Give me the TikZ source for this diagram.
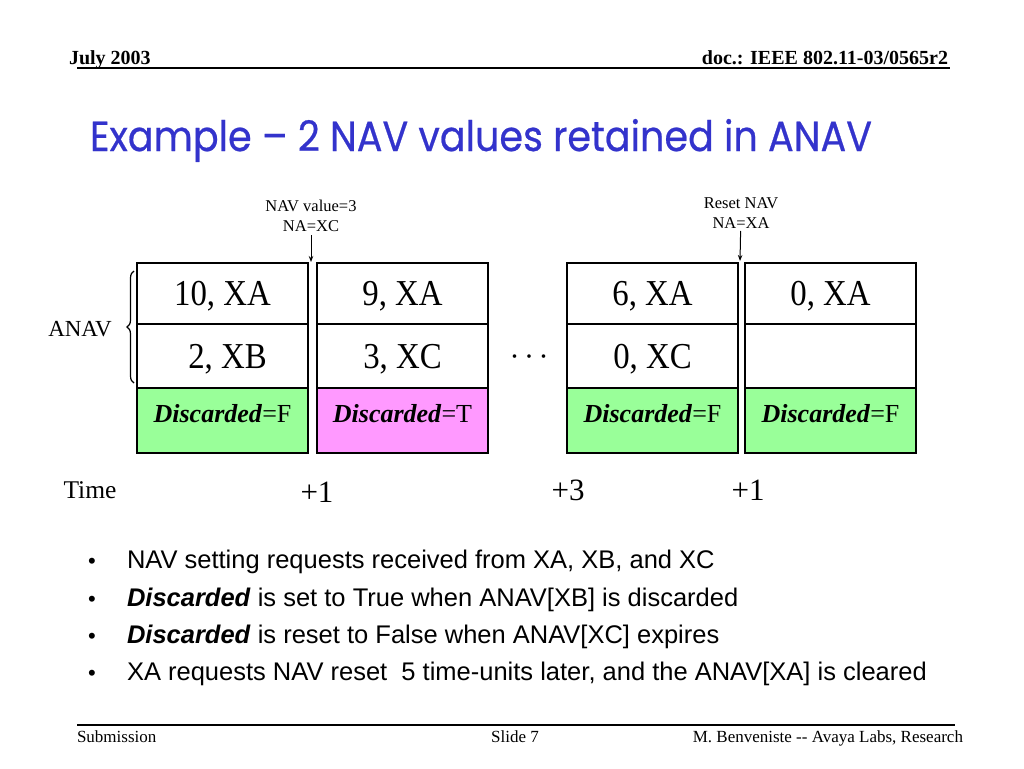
\documentclass[tikz,border=0pt]{standalone}
\usepackage{fontspec}
\setmainfont{Liberation Serif}
\setsansfont{Liberation Sans}
\newfontfamily\titlefont{Poppins}[FakeBold=0.6]
\newfontfamily\cellfont{Liberation Serif}[FakeStretch=0.9]
\usetikzlibrary{positioning,arrows.meta,decorations.pathreplacing}
\definecolor{flagF}{RGB}{153,255,153}
\definecolor{flagT}{RGB}{255,153,255}
\definecolor{titleblue}{RGB}{51,51,204}

\begin{document}
\begin{tikzpicture}[x=1pt,y=-1pt,
    every node/.style={inner sep=0pt,outer sep=0pt},
    cell/.style={draw,line width=1.5pt,minimum width=171pt},
    entry/.style={font=\cellfont\fontsize{36.5}{40}\selectfont,text height=24pt,text depth=0pt},
    flag/.style={font=\fontsize{26}{30}\selectfont,text height=18pt,text depth=15pt},
    note/.style={align=center,anchor=south,font=\fontsize{16.5}{20}\selectfont},
    pointer/.style={-{Stealth[length=6pt,width=4.5pt]},line width=1pt,shorten <=3pt},
    tick/.style={anchor=base,font=\fontsize{31}{36}\selectfont},
    bullet/.style={anchor=base west,font=\sffamily\fontsize{25.5}{30}\selectfont},
    rule/.style={line width=1.5pt}]

    \fill[white] (0,0) rectangle (1024,768);
    \useasboundingbox (0,0) rectangle (1024,768);

    \node[anchor=base west,font=\bfseries\fontsize{20}{24}\selectfont] (date) at (69,64) {July 2003};
    \node[anchor=base east,font=\bfseries\fontsize{20}{24}\selectfont] (doc) at (948,64) {doc.: IEEE 802.11-03/0565r2};
    \draw[rule] (77,68) -- (950,68);

    \node[anchor=base west,text=titleblue] (title) at (90,151) {\resizebox{782pt}{32pt}{\titlefont Example – 2 NAV values retained in ANAV}};

    \foreach \n/\x/\c/\a/\b/\f in {1/137/flagF/{10, XA}/{\hspace*{10pt}2, XB}/F,
                                   2/317/flagT/{9, XA}/{3, XC}/T,
                                   3/567/flagF/{6, XA}/{0, XC}/F,
                                   4/745/flagF/{0, XA}/{}/F} {
        \node[cell,entry,minimum height=61pt,anchor=north west] (top\n) at (\x,263) {\a};
        \node[cell,entry,minimum height=64pt,below=0pt of top\n] (mid\n) {\b};
        \node[cell,flag,minimum height=65pt,fill=\c,below=0pt of mid\n] (flag\n) {\textbf{\textit{Discarded}}=\f};
    }

    \node[note] (navnote) at (311,232) {NAV value=3\\NA=XC};
    \coordinate (gap1) at (311,262);
    \draw[pointer] (navnote) -- (gap1);

    \node[note] (resetnote) at (741,228) {Reset NAV\\NA=XA};
    \coordinate (gap2) at (740,261);
    \draw[pointer] (resetnote) -- (gap2);

    \draw[line width=1.2pt,decorate,decoration={brace,amplitude=7pt}] (134,383) -- (134,271);
    \node[anchor=base,font=\fontsize{23}{28}\selectfont] (anav) at (80,336) {ANAV};

    \node[anchor=base,font=\fontsize{30}{34}\selectfont] (dots) at (529,366) {·\hspace{4.5pt}·\hspace{4.5pt}·};

    \node[anchor=base,font=\fontsize{25.5}{30}\selectfont] (time) at (90,498) {Time};
    \node[tick] (t1) at (317,502) {+1};
    \node[tick] (t2) at (568,500) {+3};
    \node[tick] (t3) at (748,500) {+1};

    \foreach \y/\t [count=\i] in {568/{NAV setting requests received from XA, XB, and XC},
                                  606/{\textbf{\textit{Discarded}} is set to True when ANAV[XB] is discarded},
                                  643/{\textbf{\textit{Discarded}} is reset to False when ANAV[XC] expires},
                                  680/{XA requests NAV reset\ \ 5 time-units later, and the ANAV[XA] is cleared}} {
        \node[anchor=base,font=\sffamily\fontsize{22}{26}\selectfont] (dot\i) at (92,\y) {•};
        \node[bullet] (item\i) at (127,\y) {\t};
    }

    \draw[rule] (77,725) -- (955,725);
    \node[anchor=base west,font=\fontsize{17}{20}\selectfont] (sub) at (77,742) {Submission};
    \node[anchor=base,font=\fontsize{17}{20}\selectfont] (slide) at (515,742) {Slide 7};
    \node[anchor=base east,font=\fontsize{17}{20}\selectfont] (author) at (963,742) {M. Benveniste -{}- Avaya Labs, Research};

\end{tikzpicture}
\end{document}
